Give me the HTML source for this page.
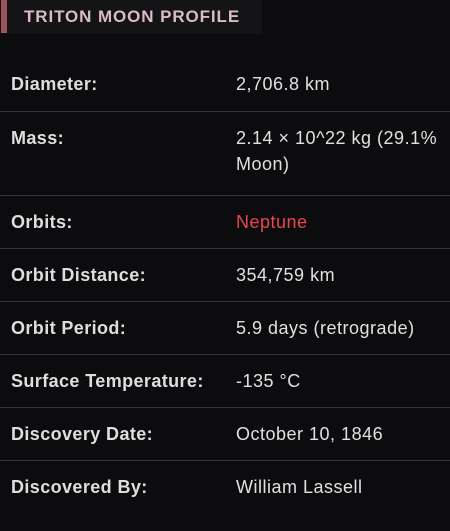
<!DOCTYPE html>
<html><head><style>
html,body{margin:0;padding:0;background:#0c0c0e;width:450px;height:531px;overflow:hidden;font-family:"Liberation Sans",sans-serif}
.hdr{position:absolute;left:0;top:0;width:262px;height:34px;background:#141316}
.bar{position:absolute;left:1px;top:0;width:6px;height:33px;background:#9a5558}
.ttl{position:absolute;left:24px;top:7px;font-size:17px;font-weight:bold;color:#d9bcc4;letter-spacing:0.9px}
.row{position:absolute;left:0;width:450px;border-bottom:1px solid #333336;box-sizing:border-box}
.lab{position:absolute;left:11px;font-size:18px;font-weight:bold;color:#dedede;letter-spacing:0.4px}
.val{position:absolute;left:236px;width:212px;font-size:18px;color:#e0e0e0;line-height:26px;letter-spacing:0.5px}
</style></head><body>
<div class="hdr"><div class="bar"></div><div class="ttl">TRITON MOON PROFILE</div></div>
<div class="row" style="top:58px;height:54px"><div class="lab" style="top:16px">Diameter:</div><div class="val" style="top:13px">2,706.8 km</div></div>
<div class="row" style="top:112px;height:84px"><div class="lab" style="top:16px">Mass:</div><div class="val" style="top:13px">2.14 × 10^22 kg (29.1% Moon)</div></div>
<div class="row" style="top:196px;height:53px"><div class="lab" style="top:16px">Orbits:</div><div class="val" style="top:13px;color:#e5484d">Neptune</div></div>
<div class="row" style="top:249px;height:53px"><div class="lab" style="top:16px">Orbit Distance:</div><div class="val" style="top:13px">354,759 km</div></div>
<div class="row" style="top:302px;height:53px"><div class="lab" style="top:16px">Orbit Period:</div><div class="val" style="top:13px">5.9 days (retrograde)</div></div>
<div class="row" style="top:355px;height:53px"><div class="lab" style="top:16px">Surface Temperature:</div><div class="val" style="top:13px">-135 °C</div></div>
<div class="row" style="top:408px;height:53px"><div class="lab" style="top:16px">Discovery Date:</div><div class="val" style="top:13px">October 10, 1846</div></div>
<div class="row" style="top:461px;height:53px;border-bottom:none"><div class="lab" style="top:16px">Discovered By:</div><div class="val" style="top:13px">William Lassell</div></div>
</body></html>
